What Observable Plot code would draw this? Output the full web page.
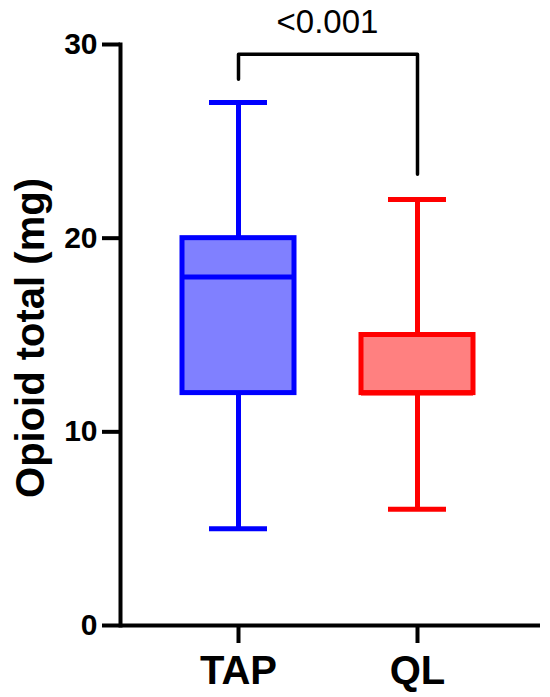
<!DOCTYPE html>
<html>
<head>
<meta charset="utf-8">
<script src="https://cdn.jsdelivr.net/npm/d3@7"></script>
<script src="https://cdn.jsdelivr.net/npm/@observablehq/plot@0.6"></script>
<style>
  html, body { margin: 0; padding: 0; background: #fff; }
  #chart { width: 550px; height: 697px; }
</style>
</head>
<body>
<div id="chart"></div>
<script>
// ---- data ----
const groups   = ["TAP", "QL"];
const mins     = [5, 6];
const q1s      = [12, 12];
const medians  = [18, 12];
const q3s      = [20, 15];
const maxs     = [27, 22];
const strokes  = ["#0000ff", "#ff0000"];
const fills    = ["#8080ff", "#ff8080"];
const yTicks   = [0, 10, 20, 30];
const yLabel   = "Opioid total (mg)";
const pLabel   = "<0.001";
// bracket: [group, y]
const bracketGroups = ["TAP", "TAP", "QL", "QL"];
const bracketYs     = [28.2, 29.5, 29.5, 23.3];

const boxes = groups.map((g, i) => ({
  group: g, min: mins[i], q1: q1s[i], median: medians[i], q3: q3s[i], max: maxs[i],
  stroke: strokes[i], fill: fills[i]
}));
const bracket = bracketGroups.map((g, i) => ({group: g, y: bracketYs[i]}));

const chart = Plot.plot({
  width: 550,
  height: 697,
  marginLeft: 120,
  marginRight: 10,
  marginTop: 44,
  marginBottom: 72,
  style: {fontFamily: "'Liberation Sans', Arial, sans-serif", background: "#fff", color: "#000"},
  x: {type: "band", domain: groups, range: [181.5, 474.5], paddingInner: 0.372, paddingOuter: 0},
  y: {domain: [0, 30]},
  marks: [
    Plot.frame({anchor: "left", stroke: "#000", strokeWidth: 4}),
    Plot.ruleY([0], {stroke: "#000", strokeWidth: 4}),
    Plot.axisY({ticks: yTicks, tickSize: 18, tickPadding: 5, fontSize: 30, fontWeight: "bold",
                strokeWidth: 4, label: null, tickFormat: d => String(d)}),
    Plot.axisX({tickSize: 18, tickPadding: 12, fontSize: 40, fontWeight: "bold",
                strokeWidth: 4, label: null}),
    Plot.text([yLabel], {frameAnchor: "left", rotate: -90, dx: -89, dy: 3, fontSize: 40, fontWeight: "bold",
                         textAnchor: "middle", lineAnchor: "middle", fill: "#000"}),
    // whiskers
    Plot.ruleX(boxes, {x: "group", y1: "min", y2: "q1", stroke: "stroke", strokeWidth: 5}),
    Plot.ruleX(boxes, {x: "group", y1: "q3", y2: "max", stroke: "stroke", strokeWidth: 5}),
    Plot.tickY(boxes, {x: "group", y: "min", stroke: "stroke", strokeWidth: 5, insetLeft: 27, insetRight: 27}),
    Plot.tickY(boxes, {x: "group", y: "max", stroke: "stroke", strokeWidth: 5, insetLeft: 27, insetRight: 27}),
    // boxes
    Plot.barY(boxes, {x: "group", y1: "q1", y2: "q3", fill: "fill", stroke: "stroke", strokeWidth: 5}),
    Plot.tickY(boxes, {x: "group", y: "median", stroke: "stroke", strokeWidth: 5}),
    // significance bracket
    Plot.line(bracket, {x: "group", y: "y", stroke: "#000", strokeWidth: 3.5, curve: "linear"}),
    Plot.text([pLabel], {frameAnchor: "top", dx: -3, dy: -22, fontSize: 33, fill: "#000",
                         textAnchor: "middle", lineAnchor: "middle"})
  ]
});
document.getElementById("chart").appendChild(chart);
</script>
</body>
</html>
